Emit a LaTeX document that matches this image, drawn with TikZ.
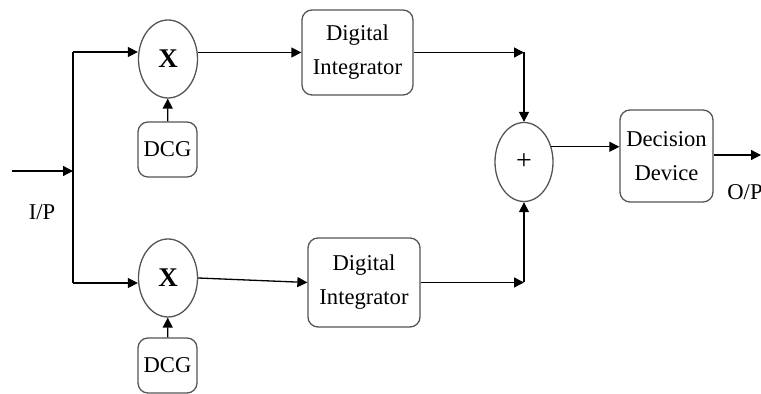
\documentclass[tikz,border=0pt]{standalone}
\usepackage{fontspec}
\setmainfont{Liberation Serif}
\usetikzlibrary{shapes, arrows.meta, positioning, calc}
\definecolor{edgegray}{RGB}{85, 85, 85}
\tikzset{
  blockbox/.style={draw=edgegray, line width=0.65pt, rounded corners=5pt, align=center, inner sep=0pt},
  mixer/.style={draw=edgegray, line width=0.65pt, ellipse, inner sep=0pt, minimum width=29.5pt, minimum height=39pt, font=\fontsize{13.5pt}{14pt}\selectfont\bfseries},
  sig/.style={line width=0.65pt, -{Triangle[length=5pt, width=5pt]}}
}

\begin{document}
\begin{tikzpicture}[x=0.5pt, y=-0.5pt, font=\fontsize{11.3pt}{17pt}\selectfont]
  \useasboundingbox (0,0) rectangle (761,394);

  \node[mixer] (mix1) at (168,59) {X};
  \node[mixer] (mix2) at (168,278) {X};
  \node[blockbox, minimum width=29.5pt, minimum height=27.5pt] (dcg1) at (167.5,149.5) {DCG};
  \node[blockbox, minimum width=29.5pt, minimum height=27.5pt] (dcg2) at (167.5,365.5) {DCG};
  \node[blockbox, minimum width=55.5pt, minimum height=42.5pt] (int1) at (357.5,52.5) {Digital\\Integrator};
  \node[blockbox, minimum width=56pt, minimum height=44.5pt] (int2) at (364,282.5) {Digital\\Integrator};
  \node[mixer, minimum width=29pt, minimum height=39.5pt, font=\fontsize{14pt}{14pt}\selectfont] (sum) at (524,162) {+};
  \node[blockbox, minimum width=46.5pt, minimum height=46pt] (dec) at (666.5,156) {Decision\\Device};

  \coordinate (in) at (12,171);
  \coordinate (split) at (73,171);
  \coordinate (top) at (73,52);
  \coordinate (bot) at (73,283);
  \coordinate (out) at (761,155);

  \node (ip) at (42,212) {I/P};
  \node (op) at (745,192) {O/P};

  \draw[sig] (in) -- (split);
  \draw[line width=0.65pt] (top) -- (bot);
  \draw[sig] (top) -- (top -| mix1.west);
  \draw[sig] (bot) -- (bot -| mix2.west);
  \draw[sig] (dcg1) -- (mix1);
  \draw[sig] (dcg2) -- (mix2);
  \draw[sig] (int1.west -| mix1.east) -- (int1.west);
  \draw[sig] (mix2.east) -- (int2.west);

  % both integrator outputs meet the adder
  \coordinate (c1) at (sum.north |- int1.east);
  \coordinate (c2) at (sum.south |- int2.east);
  \draw[sig] (int1.east) -- (c1);
  \draw[sig] (c1) -- (sum.north);
  \draw[sig] (int2.east) -- (c2);
  \draw[sig] (c2) -- (sum.south);

  \draw[sig] (sum.29) -- (sum.29 -| dec.west);
  \draw[sig] (dec.east |- out) -- (out);
\end{tikzpicture}
\end{document}
